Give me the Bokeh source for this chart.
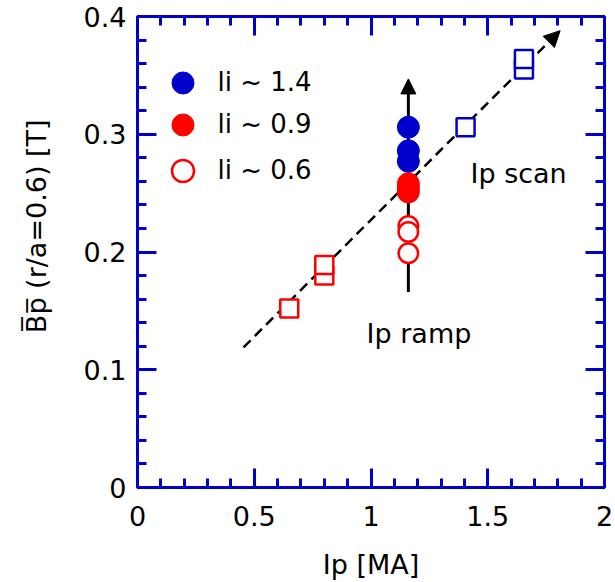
import math
from bokeh.plotting import figure
from bokeh.models import (Range1d, LinearAxis, FixedTicker, Arrow, NormalHead,
                          Legend, LegendItem)
from bokeh.embed import file_html
from bokeh.resources import INLINE
from bokeh.core.properties import value

FONT = "DejaVu Sans"
FS = "27px"
BLUE = "#0000cc"
RED = "#ff0000"

# ---- data ----
li14_ip = [1.16, 1.16, 1.16]
li14_bp = [0.306, 0.286, 0.277]
li09_ip = [1.16, 1.16, 1.16]
li09_bp = [0.258, 0.254, 0.251]
li06_ip = [1.16, 1.16, 1.16]
li06_bp = [0.222, 0.217, 0.199]
scan_hi_ip = [1.405, 1.655, 1.655]
scan_hi_bp = [0.306, 0.355, 0.364]
scan_lo_ip = [0.65, 0.80, 0.80]
scan_lo_bp = [0.152, 0.180, 0.189]
scan_arrow_ip = [0.454, 1.81]
scan_arrow_bp = [0.119, 0.388]
ramp_arrow_ip = [1.16, 1.16]
ramp_arrow_bp = [0.166, 0.347]
x_ticks = [0, 0.5, 1, 1.5, 2]
x_tick_labels = ["0", "0.5", "1", "1.5", "2"]
x_minor = [round(0.1 * i, 2) for i in range(21)]
y_ticks = [0, 0.1, 0.2, 0.3, 0.4]
y_tick_labels = ["0", "0.1", "0.2", "0.3", "0.4"]
y_minor = [round(0.02 * i, 3) for i in range(21)]
legend_labels = ["li ~ 1.4", "li ~ 0.9", "li ~ 0.6"]
notes = ["Ip scan", "Ip ramp"]
note_ip = [1.426, 0.981]
note_bp = [0.267, 0.131]
x_label = "Ip [MA]"
y_label = "\u00a0" * 6 + "B\u0305p\u0305 (r/a=0.6) [T]"

p = figure(width=615, height=582, x_range=Range1d(0, 2), y_range=Range1d(0, 0.4),
           output_backend="svg", toolbar_location=None,
           min_border_left=137, min_border_right=11, min_border_top=16, min_border_bottom=95)
p.grid.visible = False
p.background_fill_color = "white"
p.border_fill_color = "white"
p.outline_line_color = BLUE
p.outline_line_width = 3

p.add_layout(LinearAxis(), "above")
p.add_layout(LinearAxis(), "right")

for ax in p.xaxis:
    ax.ticker = FixedTicker(ticks=x_ticks, minor_ticks=x_minor)
    ax.major_label_overrides = dict(zip(x_ticks, x_tick_labels))
for ax in p.yaxis:
    ax.ticker = FixedTicker(ticks=y_ticks, minor_ticks=y_minor)
    ax.major_label_overrides = dict(zip(y_ticks, y_tick_labels))

for ax in list(p.xaxis) + list(p.yaxis):
    ax.axis_line_color = None
    ax.major_tick_line_color = BLUE
    ax.minor_tick_line_color = BLUE
    ax.major_tick_line_width = 3
    ax.minor_tick_line_width = 3
    ax.major_tick_in = 19
    ax.major_tick_out = 0
    ax.minor_tick_in = 9
    ax.minor_tick_out = 0
    ax.major_label_text_font = FONT
    ax.major_label_text_font_size = FS
    ax.major_label_text_color = "black"

# hide labels on top / right axes
for ax in [p.above[0], p.right[0]]:
    ax.major_label_text_font_size = "0px"
    ax.major_label_text_color = None
    ax.major_label_standoff = 0

xb = p.below[0]
xb.major_label_standoff = 18
xb.axis_label = x_label
xb.axis_label_text_font = FONT
xb.axis_label_text_font_size = FS
xb.axis_label_text_font_style = "normal"
xb.axis_label_text_color = "black"
xb.axis_label_standoff = 20

yl = p.left[0]
yl.major_label_standoff = 11
yl.axis_label = y_label
yl.axis_label_text_font = FONT
yl.axis_label_text_font_size = FS
yl.axis_label_text_font_style = "normal"
yl.axis_label_text_color = "black"
yl.axis_label_standoff = 29

# arrows (behind markers)
p.add_layout(Arrow(end=NormalHead(size=15, fill_color="black", line_color="black", line_width=1),
                   x_start=ramp_arrow_ip[0], y_start=ramp_arrow_bp[0],
                   x_end=ramp_arrow_ip[1], y_end=ramp_arrow_bp[1],
                   line_color="black", line_width=3, level="underlay"))
p.add_layout(Arrow(end=NormalHead(size=16, fill_color="black", line_color="black", line_width=1),
                   x_start=scan_arrow_ip[0], y_start=scan_arrow_bp[0],
                   x_end=scan_arrow_ip[1], y_end=scan_arrow_bp[1],
                   line_color="black", line_width=2.5, line_dash="10 6", level="underlay"))

# squares (Ip scan)
p.scatter(scan_lo_ip, scan_lo_bp, marker="square", size=18, fill_color="white",
          line_color=RED, line_width=2.5)
p.scatter(scan_hi_ip, scan_hi_bp, marker="square", size=18, fill_color="white",
          line_color=BLUE, line_width=2.5)

# circles (Ip ramp)
r14 = p.scatter(li14_ip, li14_bp, marker="circle", size=22, fill_color=BLUE, line_color=BLUE, line_width=1)
r09 = p.scatter(li09_ip, li09_bp, marker="circle", size=22, fill_color=RED, line_color=RED, line_width=1)
r06 = p.scatter(li06_ip, li06_bp, marker="circle", size=19.5, fill_color="white", line_color=RED, line_width=2.5)

p.text(x=note_ip, y=note_bp, text=notes, text_font=value(FONT), text_font_size=FS,
       text_align="left", text_baseline="alphabetic", text_color="black")

# legend: one single-entry legend per row (rows at 82, 124, 170 px from top)
legend_bottoms = [377.5, 335.5, 289.5]
for lab, rend, yb in zip(legend_labels, [r14, r09, r06], legend_bottoms):
    lg = Legend(items=[LegendItem(label=lab, renderers=[rend])],
                location=(17.5, yb), glyph_width=55, glyph_height=55,
                padding=0, margin=0, border_line_color=None, background_fill_alpha=0,
                label_text_font=FONT, label_text_font_size="26px", label_text_color="black",
                label_standoff=8)
    p.add_layout(lg, "center")

open("out.html", "w").write(file_html(p, INLINE))
